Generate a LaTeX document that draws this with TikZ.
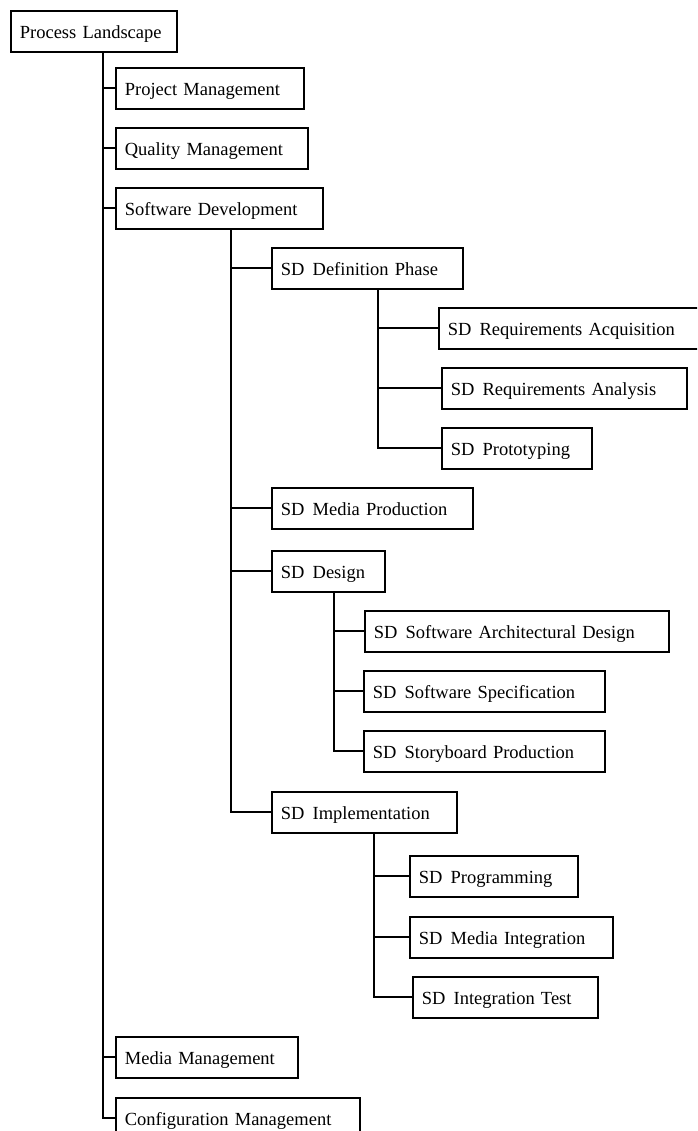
\documentclass[tikz,border=0pt]{standalone}
\usepackage{fontspec}
\setmainfont{Liberation Serif}
\begin{document}
\begin{tikzpicture}[x=1pt, y=-1pt,
  box/.style={draw, line width=1.7pt, anchor=north west, inner xsep=9pt, inner ysep=0pt,
    minimum height=41pt, text height=14pt, text depth=0pt, align=left,
    font=\fontsize{18.5}{21}\selectfont},
  conn/.style={line width=1.8pt}]
\useasboundingbox (0,0) rectangle (697,1131);
\clip (0,0) rectangle (697,1131);

% boxes: position = top-left corner, text width = outer width - 18
\node[box, text width=148] (pl) at (10,10) {Process Landscape};
\node[box, text width=170] (pm) at (115,67) {Project Management};
\node[box, text width=174] (qm) at (115,127) {Quality Management};
\node[box, text width=189] (sdev) at (115,187) {Software Development};
\node[box, text width=173] (defp) at (271,247) {SD\hspace{2pt} Definition Phase};
\node[box, text width=272] (reqacq) at (438,307) {SD\hspace{2pt} Requirements Acquisition};
\node[box, text width=227] (reqan) at (441,367) {SD\hspace{2pt} Requirements Analysis};
\node[box, text width=132] (proto) at (441,427) {SD\hspace{2pt} Prototyping};
\node[box, text width=183] (medprod) at (271,487) {SD\hspace{2pt} Media Production};
\node[box, text width=95] (design) at (271,550) {SD\hspace{2pt} Design};
\node[box, text width=286] (arch) at (364,610) {SD\hspace{2pt} Software Architectural Design};
\node[box, text width=223] (spec) at (363,670) {SD\hspace{2pt} Software Specification};
\node[box, text width=223] (story) at (363,730) {SD\hspace{2pt} Storyboard Production};
\node[box, text width=167] (impl) at (271,791) {SD\hspace{2pt} Implementation};
\node[box, text width=150] (prog) at (409,855) {SD\hspace{2pt} Programming};
\node[box, text width=185] (medint) at (409,916) {SD\hspace{2pt} Media Integration};
\node[box, text width=167] (inttest) at (412,976) {SD\hspace{2pt} Integration Test};
\node[box, text width=164] (mm) at (115,1036) {Media Management};
\node[box, text width=226] (cm) at (115,1097) {Configuration Management};

% trunk origins below each parent
\coordinate (t0) at (103,0 |- pl.south);
\coordinate (t1) at (231,0 |- sdev.south);
\coordinate (t2) at (378,0 |- defp.south);
\coordinate (t3) at (334,0 |- design.south);
\coordinate (t4) at (374,0 |- impl.south);

% tree connectors
\foreach \c in {pm,qm,sdev,mm,cm} \draw[conn] (t0) |- (\c.west);
\foreach \c in {defp,medprod,design,impl} \draw[conn] (t1) |- (\c.west);
\foreach \c in {reqacq,reqan,proto} \draw[conn] (t2) |- (\c.west);
\foreach \c in {arch,spec,story} \draw[conn] (t3) |- (\c.west);
\foreach \c in {prog,medint,inttest} \draw[conn] (t4) |- (\c.west);
\end{tikzpicture}
\end{document}
